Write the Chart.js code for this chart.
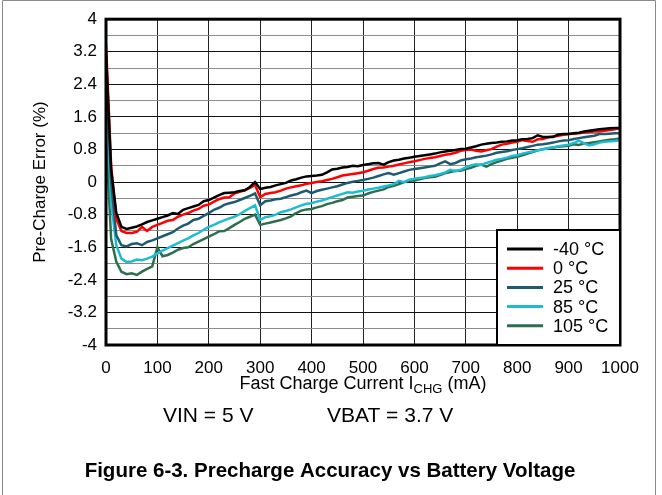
<!DOCTYPE html>
<html>
<head>
<meta charset="utf-8">
<script src="https://cdn.jsdelivr.net/npm/chart.js@4.4.0/dist/chart.umd.min.js"></script>
<style>
  html, body { margin: 0; padding: 0; background: #fff; }
  #wrap { width: 662px; height: 495px; }
</style>
</head>
<body>
<div id="wrap"><canvas id="chart" width="662" height="495"></canvas></div>
<script>
// fast charge current, mA
const current = [
  0, 10, 20, 30, 40, 50, 60, 70, 80, 90,
  100, 110, 120, 130, 140, 150, 160, 170, 180, 190,
  200, 210, 220, 230, 240, 250, 260, 270, 280, 290,
  300, 310, 320, 330, 340, 350, 360, 370, 380, 390,
  400, 410, 420, 430, 440, 450, 460, 470, 480, 490,
  500, 510, 520, 530, 540, 550, 560, 570, 580, 590,
  600, 610, 620, 630, 640, 650, 660, 670, 680, 690,
  700, 710, 720, 730, 740, 750, 760, 770, 780, 790,
  800, 810, 820, 830, 840, 850, 860, 870, 880, 890,
  900, 910, 920, 930, 940, 950, 960, 970, 980, 990, 1000
];

// pre-charge error, %
const errNeg40 = [
  3.2, 0.3, -0.75, -1.1, -1.15, -1.12, -1.09, -1.04, -0.98, -0.94,
  -0.9, -0.86, -0.82, -0.76, -0.78, -0.68, -0.64, -0.6, -0.56, -0.47,
  -0.44, -0.38, -0.32, -0.27, -0.26, -0.25, -0.22, -0.2, -0.12, 0.0,
  -0.17, -0.14, -0.12, -0.08, -0.05, -0.02, 0.04, 0.07, 0.11, 0.14,
  0.15, 0.16, 0.18, 0.24, 0.31, 0.33, 0.36, 0.37, 0.40, 0.39,
  0.42, 0.44, 0.46, 0.47, 0.43, 0.49, 0.53, 0.55, 0.58, 0.6,
  0.62, 0.64, 0.66, 0.68, 0.7, 0.73, 0.75, 0.77, 0.79, 0.81,
  0.82, 0.85, 0.88, 0.92, 0.94, 0.96, 0.97, 0.99, 1.0, 1.02,
  1.03, 1.05, 1.06, 1.08, 1.15, 1.11, 1.11, 1.11, 1.17, 1.18,
  1.18, 1.2, 1.21, 1.24, 1.26, 1.28, 1.3, 1.31, 1.32, 1.33, 1.33
];
const err0 = [
  3.4, 0.4, -0.9, -1.2, -1.25, -1.25, -1.22, -1.1, -1.2, -1.1,
  -1.05, -1.0, -0.95, -0.93, -0.85, -0.8, -0.76, -0.7, -0.66, -0.58,
  -0.55, -0.48, -0.42, -0.38, -0.37, -0.28, -0.24, -0.2, -0.14, -0.07,
  -0.37, -0.29, -0.27, -0.25, -0.21, -0.16, -0.13, -0.1, -0.08, -0.04,
  -0.02, 0.0, 0.02, 0.05, 0.08, 0.12, 0.16, 0.18, 0.2, 0.22,
  0.24, 0.28, 0.32, 0.35, 0.36, 0.38, 0.4, 0.43, 0.46, 0.49,
  0.51, 0.54, 0.57, 0.59, 0.61, 0.64, 0.67, 0.69, 0.72, 0.77,
  0.79, 0.8, 0.77, 0.75, 0.78, 0.81, 0.87, 0.92, 0.94, 0.97,
  0.99, 1.03, 1.01, 0.99, 1.05, 1.06, 1.1, 1.12, 1.14, 1.16,
  1.18, 1.19, 1.2, 1.22, 1.23, 1.24, 1.24, 1.26, 1.28, 1.3, 1.32
];
const err25 = [
  3.05, 0.0, -1.3, -1.55, -1.58, -1.52, -1.5, -1.55, -1.47, -1.43,
  -1.38, -1.33, -1.28, -1.23, -1.14, -1.07, -1.02, -0.93, -0.9, -0.83,
  -0.76, -0.68, -0.63, -0.56, -0.52, -0.49, -0.44, -0.39, -0.34, -0.28,
  -0.57, -0.47, -0.45, -0.42, -0.41, -0.37, -0.33, -0.3, -0.25, -0.21,
  -0.27, -0.22, -0.19, -0.16, -0.13, -0.1, -0.06, -0.02, 0.01, 0.03,
  0.05, 0.08, 0.11, 0.15, 0.19, 0.22, 0.18, 0.22, 0.26, 0.3,
  0.32, 0.34, 0.36, 0.38, 0.4, 0.46, 0.51, 0.44, 0.47, 0.53,
  0.56, 0.58, 0.61, 0.63, 0.65, 0.68, 0.72, 0.74, 0.76, 0.79,
  0.81, 0.83, 0.86, 0.89, 0.92, 0.93, 0.95, 0.97, 1.0, 1.02,
  1.03, 1.06, 1.08, 1.1, 1.12, 1.14, 1.18, 1.18, 1.19, 1.2, 1.2
];
const err85 = [
  2.3, -0.5, -1.55, -1.88, -1.96, -1.95, -1.9, -1.92, -1.88, -1.83,
  -1.75, -1.68, -1.62, -1.56, -1.5, -1.44, -1.38, -1.31, -1.25, -1.17,
  -1.1, -1.05, -0.99, -0.94, -0.89, -0.85, -0.79, -0.71, -0.64, -0.57,
  -0.93, -0.86, -0.84, -0.8, -0.74, -0.71, -0.67, -0.62, -0.57, -0.53,
  -0.52, -0.48, -0.45, -0.41, -0.37, -0.33, -0.29, -0.25, -0.26, -0.23,
  -0.21, -0.18, -0.16, -0.14, -0.11, -0.08, -0.05, 0.03, 0.0, 0.06,
  0.08, 0.1, 0.12, 0.15, 0.17, 0.2, 0.24, 0.3, 0.27, 0.3,
  0.36, 0.41, 0.44, 0.42, 0.47, 0.51, 0.55, 0.57, 0.6, 0.64,
  0.66, 0.7, 0.73, 0.75, 0.78, 0.8, 0.83, 0.85, 0.88, 0.9,
  0.92, 0.96, 1.02, 0.96, 0.9, 0.93, 0.97, 0.99, 1.0, 1.01, 1.03
];
const err105 = [
  1.15, -1.4, -1.95, -2.2, -2.26, -2.24, -2.28, -2.2, -2.13, -2.07,
  -1.6, -1.82, -1.79, -1.73, -1.66, -1.62, -1.6, -1.52, -1.46, -1.4,
  -1.34, -1.28, -1.21, -1.2, -1.13, -1.05, -0.98, -0.9, -0.85, -0.8,
  -1.05, -1.02, -0.99, -0.96, -0.93, -0.89, -0.84, -0.76, -0.7, -0.67,
  -0.66, -0.62, -0.59, -0.54, -0.51, -0.47, -0.44, -0.38, -0.36, -0.34,
  -0.33, -0.28, -0.24, -0.21, -0.18, -0.12, -0.09, -0.05, 0.0, 0.03,
  0.04, 0.07, 0.1, 0.12, 0.13, 0.17, 0.22, 0.25, 0.28, 0.28,
  0.32, 0.35, 0.4, 0.43, 0.38, 0.44, 0.49, 0.53, 0.57, 0.6,
  0.62, 0.66, 0.7, 0.74, 0.78, 0.81, 0.83, 0.85, 0.87, 0.88,
  0.89, 0.93, 0.91, 0.95, 0.96, 0.98, 1.0, 1.02, 1.04, 1.05, 1.07
];

const seriesLabels = ['-40 °C', '0 °C', '25 °C', '85 °C', '105 °C'];
const seriesColors = ['#000000', '#ff0000', '#1f5b70', '#1cbcd2', '#2e6e4e'];
const seriesData = [errNeg40, err0, err25, err85, err105];

const FONT = '"Liberation Sans", Arial, sans-serif';

function points(arr) {
  return arr.map((v, i) => ({ x: current[i], y: v }));
}

const datasets = seriesData.map((arr, i) => ({
  label: seriesLabels[i],
  data: points(arr),
  borderColor: seriesColors[i],
  borderWidth: 2.5,
  pointRadius: 0,
  fill: false,
  tension: 0
}));

function isLabelTick(v) {
  return Math.round(v * 10) % 8 === 0;
}

// frame, legend box and the loose texts
const decor = {
  id: 'decor',
  beforeDraw(chart) {
    const c = chart.ctx;
    c.save();
    c.fillStyle = '#fff';
    c.fillRect(0, 0, chart.width, chart.height);
    c.strokeStyle = '#8a8a8a';
    c.lineWidth = 1;
    c.beginPath();
    c.moveTo(2.5, 495);
    c.lineTo(2.5, 0.5);
    c.lineTo(655.5, 0.5);
    c.lineTo(655.5, 495);
    c.stroke();
    c.restore();
  },
  afterDatasetsDraw(chart) {
    const c = chart.ctx;
    const a = chart.chartArea;
    c.save();
    c.strokeStyle = '#000';
    c.lineWidth = 3;
    c.strokeRect(a.left, a.top, a.right - a.left, a.bottom - a.top);

    // legend
    const bx = a.right - 123, by = a.bottom - 115;
    c.fillStyle = '#fff';
    c.fillRect(bx, by, a.right - bx, a.bottom - by);
    c.lineWidth = 2;
    c.strokeRect(bx, by, a.right - bx, a.bottom - by);
    c.font = '18px ' + FONT;
    c.textBaseline = 'middle';
    chart.data.datasets.forEach((ds, i) => {
      const y = by + 19 + i * 19.2;
      c.strokeStyle = ds.borderColor;
      c.lineWidth = 3;
      c.beginPath();
      c.moveTo(bx + 10, y);
      c.lineTo(bx + 46, y);
      c.stroke();
      c.fillStyle = '#000';
      c.fillText(ds.label, bx + 56, y + 1);
    });
    c.restore();
  },
  afterDraw(chart) {
    const c = chart.ctx;
    const a = chart.chartArea;
    c.save();
    c.fillStyle = '#000';
    c.textBaseline = 'middle';

    // y title
    c.save();
    c.translate(40, (a.top + a.bottom) / 2);
    c.rotate(-Math.PI / 2);
    c.textAlign = 'center';
    c.font = '17px ' + FONT;
    c.fillText('Pre-Charge Error (%)', 0, 0);
    c.restore();

    // x title with subscript
    const main1 = 'Fast Charge Current I', sub = 'CHG', main2 = ' (mA)';
    c.font = '18px ' + FONT;
    const w1 = c.measureText(main1).width, w3 = c.measureText(main2).width;
    c.font = '13px ' + FONT;
    const w2 = c.measureText(sub).width;
    const x = (a.left + a.right) / 2 - (w1 + w2 + w3) / 2;
    const ty = 384;
    c.textAlign = 'left';
    c.font = '18px ' + FONT;
    c.fillText(main1, x, ty);
    c.font = '13px ' + FONT;
    c.fillText(sub, x + w1, ty + 5);
    c.font = '18px ' + FONT;
    c.fillText(main2, x + w1 + w2, ty);

    // conditions
    c.font = '21px ' + FONT;
    c.fillText('VIN = 5 V', 163, 416);
    c.fillText('VBAT = 3.7 V', 327, 416);

    // caption
    c.textAlign = 'center';
    c.font = 'bold 20.5px ' + FONT;
    c.fillText('Figure 6-3. Precharge Accuracy vs Battery Voltage', 330, 471);
    c.restore();
  }
};

new Chart(document.getElementById('chart'), {
  type: 'line',
  data: { datasets: datasets },
  options: {
    responsive: false,
    animation: false,
    layout: { padding: { left: 0, right: 42, top: 18, bottom: 0 } },
    plugins: {
      legend: { display: false },
      tooltip: { enabled: false }
    },
    scales: {
      x: {
        type: 'linear',
        min: 0,
        max: 1000,
        afterFit: s => { s.height = 150; },
        border: { display: false },
        grid: { color: '#222', lineWidth: 1, drawTicks: false },
        ticks: {
          stepSize: 100,
          padding: 13,
          color: '#000',
          font: { family: FONT, size: 17 },
          callback: v => String(v)
        }
      },
      y: {
        min: -4,
        max: 4,
        afterFit: s => { s.width = 106; },
        border: { display: false },
        grid: {
          drawTicks: false,
          lineWidth: 1,
          color: ctx => (ctx.tick && isLabelTick(ctx.tick.value)) ? '#111' : '#8c8c8c'
        },
        ticks: {
          stepSize: 0.4,
          padding: 9,
          autoSkip: false,
          color: '#000',
          font: { family: FONT, size: 17 },
          callback: v => isLabelTick(v) ? String(Math.round(v * 10) / 10) : ''
        }
      }
    }
  },
  plugins: [decor]
});
</script>
</body>
</html>
